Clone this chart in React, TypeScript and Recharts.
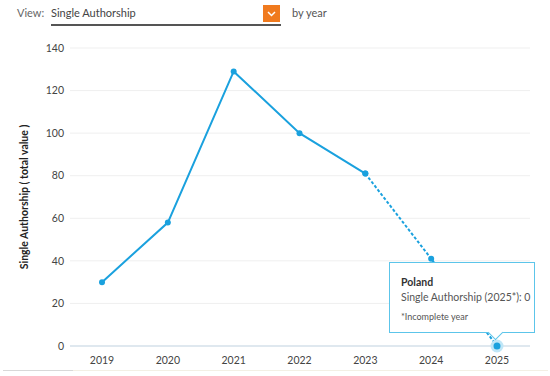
import React from 'react';
import { LineChart, Line, XAxis, YAxis, CartesianGrid, Tooltip } from 'recharts';

const years = ['2019', '2020', '2021', '2022', '2023', '2024', '2025'];
const completeValues = [30, 58, 129, 100, 81, null, null];
const incompleteValues = [null, null, null, null, 81, 41, 0];
const yTicks = [0, 20, 40, 60, 80, 100, 120, 140];
const countryName = 'Poland';
const seriesName = 'Single Authorship';
const yAxisTitle = 'Single Authorship ( total value )';
const incompleteNote = '*Incomplete year';

const data = years.map((y, i) => ({
  year: y,
  complete: completeValues[i],
  incomplete: incompleteValues[i],
}));

const FONT = 'Lato, "Open Sans", sans-serif';
const BLUE = '#1aa1de';

const TipContent = (props: any) => {
  const { active, payload, label } = props;
  if (!active || !payload || !payload.length) return null;
  const entry = payload.find((p: any) => p.value !== null && p.value !== undefined);
  const val = entry ? entry.value : '';
  return (
    <div
      style={{
        position: 'relative',
        width: 146,
        height: 71,
        boxSizing: 'border-box',
        border: '1px solid #5cc5ea',
        background: '#fff',
        fontFamily: FONT,
        padding: '12px 0 0 11px',
        whiteSpace: 'nowrap',
      }}
    >
      <div style={{ fontSize: 10.5, fontWeight: 700, color: '#333', lineHeight: '14px' }}>{countryName}</div>
      <div style={{ fontSize: 10.5, color: '#555', lineHeight: '14px', marginTop: 1 }}>
        {seriesName} ({label}*): {val}
      </div>
      <div style={{ fontSize: 9, color: '#555', lineHeight: '12px', marginTop: 7 }}>{incompleteNote}</div>
      <div
        style={{
          position: 'absolute',
          left: 100,
          bottom: -6,
          width: 10,
          height: 10,
          background: '#fff',
          borderRight: '1px solid #5cc5ea',
          borderBottom: '1px solid #5cc5ea',
          transform: 'rotate(45deg)',
        }}
      />
    </div>
  );
};

export default function App() {
  return (
    <div style={{ position: 'absolute', left: 0, top: 0, width: 550, height: 376, background: '#fff', fontFamily: FONT }}>
      <div style={{ position: 'absolute', left: 17, top: 6, fontSize: 11, color: '#666' }}>View:</div>
      <div style={{ position: 'absolute', left: 51, top: 6, fontSize: 11, color: '#444' }}>Single Authorship</div>
      <div style={{ position: 'absolute', left: 51, top: 24, width: 230, height: 1.5, background: '#555' }} />
      <div style={{ position: 'absolute', left: 263, top: 5, width: 17, height: 17, background: '#f07a1e' }}>
        <svg width={17} height={17}>
          <polyline points="5,7 8.5,10.5 12,7" fill="none" stroke="#fff" strokeWidth={1.5} />
        </svg>
      </div>
      <div style={{ position: 'absolute', left: 292, top: 6, fontSize: 11, color: '#555' }}>by year</div>
      <div style={{ position: 'absolute', left: 3, top: 370, width: 70, height: 1, background: '#d8d8d8' }} />
      <div style={{ position: 'absolute', left: 73, top: 370, width: 475, height: 1, background: '#f3efe4' }} />
      <div style={{ position: 'absolute', left: 0, top: 0 }}>
        <LineChart width={550} height={376} data={data} margin={{ top: 48, right: 20, bottom: 0, left: 0 }}>
          <CartesianGrid horizontal vertical={false} stroke="#efefef" />
          <XAxis
            dataKey="year"
            height={30}
            padding={{ left: 32, right: 33 }}
            axisLine={{ stroke: '#dfe8ef', strokeWidth: 2 }}
            tickLine={false}
            tickSize={0}
            tickMargin={11}
            tick={{ fontSize: 10.5, fill: '#444', fontFamily: FONT }}
          />
          <YAxis
            width={70}
            domain={[0, 140]}
            ticks={yTicks}
            axisLine={false}
            tickLine={false}
            tickSize={0}
            tickMargin={6}
            tick={{ fontSize: 10.5, fill: '#444', fontFamily: FONT }}
            label={{
              value: yAxisTitle,
              angle: -90,
              position: 'center',
              dx: -11,
              style: { fontSize: 10.5, fontWeight: 700, fill: '#222', fontFamily: FONT },
            }}
          />
          <Tooltip
            active
            defaultIndex={6}
            cursor={false}
            isAnimationActive={false}
            position={{ x: 389, y: 262 }}
            wrapperStyle={{ outline: 'none' }}
            content={<TipContent />}
          />
          <Line
            dataKey="complete"
            stroke={BLUE}
            strokeWidth={2}
            dot={{ r: 3, fill: BLUE, stroke: BLUE, strokeWidth: 0 }}
            activeDot={false}
            connectNulls={false}
            isAnimationActive={false}
          />
          <Line
            dataKey="incomplete"
            stroke={BLUE}
            strokeWidth={2}
            strokeDasharray="3 2"
            dot={{ r: 3, fill: BLUE, stroke: BLUE, strokeWidth: 0 }}
            activeDot={{ r: 5, fill: BLUE, stroke: '#bfe6f7', strokeWidth: 3 }}
            isAnimationActive={false}
          />
        </LineChart>
      </div>
    </div>
  );
}
